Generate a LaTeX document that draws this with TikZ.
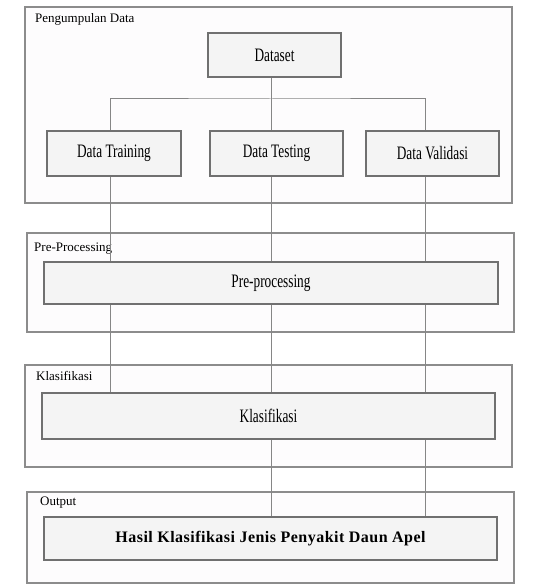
\documentclass[tikz,border=0pt]{standalone}
\usepackage{fontspec}
\setmainfont{Liberation Serif}
\newfontfamily\narrowserif[FakeStretch=0.7]{Liberation Serif}
\usepackage{tikz}
\usetikzlibrary{positioning}

\definecolor{groupfill}{HTML}{FDFCFD}
\definecolor{groupline}{HTML}{8C8C8C}
\definecolor{boxfill}{HTML}{F4F4F4}
\definecolor{boxline}{HTML}{707070}
\definecolor{wire}{HTML}{868686}

\begin{document}
\begin{tikzpicture}[x=1pt,y=-1pt,
            group/.style={draw=groupline,fill=groupfill,line width=1.2pt,inner sep=0pt,minimum width=487pt},
            grouplab/.style={anchor=base west,inner sep=0pt,font=\fontsize{13}{15}\selectfont},
            box/.style={draw=boxline,fill=boxfill,line width=1.2pt,inner sep=0pt,font=\narrowserif\fontsize{19}{22}\selectfont},
            small/.style={box,minimum width=133pt,minimum height=45pt},
            wide/.style={box,minimum width=454pt,minimum height=43pt},
            line/.style={draw=wire,line width=1pt}
          ]
          \useasboundingbox (0,0) rectangle (541,585);

          %groups
          \node[group,minimum height=196pt] (gdata) at (268.5,105) {};
          \node[group,minimum height=99pt] (gpre) at (270.5,282.5) {};
          \node[group,minimum height=102pt] (gklas) at (268.5,416) {};
          \node[group,minimum height=91pt] (gout) at (270.5,537.5) {};

          %labels
          \node[grouplab] (ldata) at (35,22.5) {Pengumpulan Data};
          \node[grouplab] (lpre) at (34,251.5) {Pre-Processing};
          \node[grouplab] (lklas) at (36,380) {Klasifikasi};
          \node[grouplab] (lout) at (40,505) {Output};

          %columns
          \coordinate (c1) at (110,0);
          \coordinate (c2) at (271,0);
          \coordinate (c3) at (425,0);
          \coordinate (bus) at (271,99);

          %boxes
          \node[small,minimum height=44pt] (dataset) at (274.5,55) {Dataset};
          \node[small,minimum width=134pt] (train) at (114,153.5) {Data Training};
          \node[small] (test) at (276.5,153.5) {Data Testing};
          \node[small] (valid) at (432.5,153.5) {Data Validasi};
          \node[wide,minimum height=42pt] (pre) at (271,283) {Pre-processing};
          \node[wide,minimum width=453pt,minimum height=46pt] (klas) at (268.5,416) {Klasifikasi};
          \node[wide,minimum width=453pt,font=\bfseries\addfontfeatures{LetterSpace=3}\fontsize{16}{18}\selectfont] (hasil) at (270.5,538.5) {Hasil Klasifikasi Jenis Penyakit Daun Apel};

          %wires
          \path[line]
          (dataset.south -| c2) -- (test.north -| c2)
          (train.north -| c1) |- (bus) -| (valid.north -| c3)
          ;
          \foreach \a/\c in {train/c1,test/c2,valid/c3}
            \path[line] (\a.south -| \c) -- (pre.north -| \c);
          \foreach \c in {c1,c2,c3}
            \path[line] (pre.south -| \c) -- (klas.north -| \c);
          \foreach \c in {c2,c3}
            \path[line] (klas.south -| \c) -- (hasil.north -| \c);

      \end{tikzpicture}
\end{document}
